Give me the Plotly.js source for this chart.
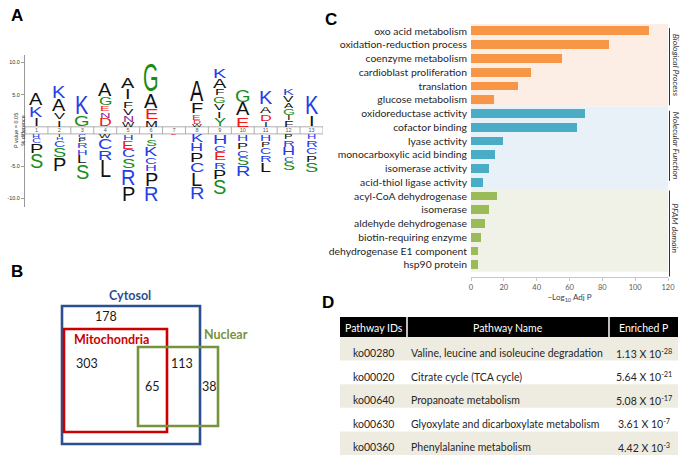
<!DOCTYPE html>
<html><head><meta charset="utf-8">
<script src="https://cdn.plot.ly/plotly-3.0.1.min.js"></script>
<style>html,body{margin:0;padding:0;background:#fff}#chart{width:685px;height:463px}</style>
</head><body><div id="chart"></div>
<script>
const W = 685, H = 463;

// ---------- Panel C data ----------
const bpTerms = ["oxo acid metabolism","oxidation-reduction process","coenzyme metabolism","cardioblast proliferation","translation","glucose metabolism"];
const bpValues = [108.5, 84, 55.5, 36.6, 28.9, 14];
const mfTerms = ["oxidoreductase activity","cofactor binding","lyase activity","monocarboxylic acid binding","isomerase activity","acid-thiol ligase activity"];
const mfValues = [69.7, 64.4, 19.7, 14.6, 11, 7.5];
const pfTerms = ["acyl-CoA dehydrogenase","isomerase","aldehyde dehydrogenase","biotin-requiring enzyme","dehydrogenase E1 component","hsp90 protein"];
const pfValues = [16, 10.8, 8.3, 6.3, 4.5, 4.1];
const groupNames = ["Biological Process","Molecular Function","PFAM domain"];
const xTicks = [0, 20, 40, 60, 80, 100, 120];

// ---------- Panel D data ----------
const pathwayIds = ["ko00280","ko00020","ko00640","ko00630","ko00360"];
const pathwayNames = ["Valine, leucine and isoleucine degradation","Citrate cycle (TCA cycle)","Propanoate metabolism","Glyoxylate and dicarboxylate metabolism","Phenylalanine metabolism"];
const enrichMantissa = ["1.13","5.64","5.08","3.61","4.42"];
const enrichExponent = [-28, -21, -17, -7, -3];
const tableHeader = ["Pathway IDs","Pathway Name","Enriched P"];

// ---------- Panel B data ----------
const vennSets = ["Cytosol","Mitochondria","Nuclear"];
const vennCounts = [178, 303, 113, 65, 38];

// ---------- Panel A data (iceLogo) ----------
const logoPositions = [1,2,3,4,5,6,7,8,9,10,11,12,13];
const logoTicks = [10, 5, -5, -10];
// letters above the strip, listed from the strip upward
const upLetters = ["IKA","IVAK","GK","DNEGA","WNVFIA","MEAG","","WDEFA","YIVGFAK","EAG","IDAK","FIGAVK","IK"];
const upHeights = [[1.4,1.9,2.0],[1.2,1.2,2.0,2.0],[1.9,3.1],[1.35,1.0,1.0,1.3,2.3],[0.8,1.1,1.1,1.2,1.7,1.7],[1.1,1.7,2.5,4.7],[],[0.5,0.6,0.8,1.9,3.6],[1.4,1.2,1.1,1.2,1.1,1.6,1.6],[1.6,2.2,2.0],[0.9,1.2,1.2,2.2],[1.1,0.8,1.1,0.9,1.1,1.2],[1.9,3.1]];
// letters below the strip, listed from the strip downward
const downLetters = ["HCPS","IHCSP","CPRHLS","WCRL","HECSRP","ISKCHPR","E","KHPCLR","HCERPS","HPCSR","HPCRL","PRHCS","HRCPS"];
const downHeights = [[0.6,0.8,1.6,2.5],[0.4,0.5,1.1,1.6,2.3],[0.6,0.7,1.0,1.0,1.3,2.6],[0.7,1.7,1.6,3.0],[1.0,1.3,1.4,1.6,2.7,2.6],[0.6,1.2,1.6,1.2,1.2,2.3,2.5],[0.25],[1.4,1.4,1.6,1.6,2.2,2.0],[1.6,1.2,1.4,1.2,1.6,2.6],[1.1,1.2,1.2,1.4,1.7],[1.1,0.9,1.1,1.2,1.6],[0.8,1.2,1.4,0.9,1.4],[0.8,1.2,1.1,1.2,1.6]];

const aaColors = {K:'#1f3ee6',R:'#1f3ee6',H:'#1f3ee6',C:'#1f3ee6',G:'#1a8c1a',S:'#1a8c1a',Y:'#1a8c1a',T:'#1a8c1a',E:'#f01818',D:'#f01818',N:'#962896',Q:'#962896'};

// ---------- helpers ----------
const px = x => x / W;
const py = y => 1 - y / H;

// Panel A geometry
const aX = [25, 323], aY = [55, 207];
const y2Range = [-11.9, 11.7];
const ppu = (aY[1] - aY[0]) / (y2Range[1] - y2Range[0]);
const stripHalf = 0.55;

// build letter annotations
const letterSpecs = [];
function addLetters(pos, letters, heights, dir) {
  let acc = stripHalf;
  for (let i = 0; i < letters.length; i++) {
    const h = heights[i];
    const center = dir * (acc + h / 2);
    acc += h;
    const hpx = h * ppu * 0.9;
    const fs = Math.min(20, 6 + 1.5 * hpx);
    letterSpecs.push({x: pos, y: center, ch: letters[i], hpx: hpx, fs: fs});
  }
}
logoPositions.forEach((p, k) => {
  addLetters(p, upLetters[k], upHeights[k], 1);
  addLetters(p, downLetters[k], downHeights[k], -1);
});

const annotations = letterSpecs.map(s => ({
  xref: 'x2', yref: 'y2', x: s.x, y: s.y, text: s.ch, showarrow: false,
  xanchor: 'center', yanchor: 'middle', borderpad: 0,
  font: {family: 'Liberation Sans, Arial, sans-serif', size: s.fs, color: aaColors[s.ch] || '#111111'}
}));

// panel letters
[['A',17,16],['B',17,271],['C',331,19],['D',328,302]].forEach(([t,x,y]) => annotations.push({
  xref:'paper', yref:'paper', x:px(x), y:py(y), text:'<b>'+t+'</b>', showarrow:false,
  xanchor:'center', yanchor:'middle', font:{family:'Liberation Sans, Arial, sans-serif', size:17, color:'#000'}
}));

// logo y-axis title
annotations.push({xref:'paper', yref:'paper', x:px(19), y:py(131), text:'P value = 0.05<br>% difference', textangle:-90,
  showarrow:false, xanchor:'center', yanchor:'middle', font:{family:'Liberation Sans, Arial', size:5.5, color:'#333'}});

// Panel C side group labels
const groupCenters = [2.5, 8.3, 14.3];
groupNames.forEach((g, i) => annotations.push({
  xref:'paper', yref:'y', x:px(675.5), y:groupCenters[i], text:'<i>'+g+'</i>', textangle:90, showarrow:false,
  xanchor:'center', yanchor:'middle', font:{family:'Lato, Open Sans, sans-serif', size:8.5, color:'#333'}
}));

// Panel B labels
const vennLabelPos = [[130,295,'#2e4f8f'],[111,339,'#cc0000'],[226,334,'#77933c']];
vennSets.forEach((s, i) => annotations.push({
  xref:'paper', yref:'paper', x:px(vennLabelPos[i][0]), y:py(vennLabelPos[i][1]), text:'<b>'+s+'</b>', showarrow:false,
  xanchor:'center', yanchor:'middle', font:{family:'Lato, sans-serif', size:12.5, color:vennLabelPos[i][2]}
}));
const vennCountPos = [[106,316],[87,363],[182,363],[152,386],[209,386]];
vennCounts.forEach((c, i) => annotations.push({
  xref:'paper', yref:'paper', x:px(vennCountPos[i][0]), y:py(vennCountPos[i][1]), text:String(c), showarrow:false,
  xanchor:'center', yanchor:'middle', font:{family:'Lato, sans-serif', size:12.5, color:'#1a1a1a'}
}));

// ---------- shapes ----------
const shapes = [];
// Panel C background bands
const bandColors = ['#fdeee5', '#e8f0f8', '#f0f2e7'];
bandColors.forEach((c, i) => shapes.push({type:'rect', xref:'x domain', yref:'y', x0:0, x1:1, y0:6*i-0.5, y1:6*i+5.5,
  fillcolor:c, line:{width:0}, layer:'below'}));
// Panel C side lines
const sideLineSpans = [[-0.2,5.4],[5.8,10.9],[11.6,17.85]];
sideLineSpans.forEach(s => shapes.push({type:'line', xref:'paper', yref:'y', x0:px(669.5), x1:px(669.5), y0:s[0], y1:s[1],
  line:{color:'#333', width:1}}));
// Panel A strip
shapes.push({type:'rect', xref:'x2', yref:'y2', x0:0.5, x1:13.5, y0:-stripHalf, y1:stripHalf, line:{color:'#9a9a9a', width:0.8}, fillcolor:'rgba(0,0,0,0)'});
logoPositions.slice(0, -1).forEach(p => shapes.push({type:'line', xref:'x2', yref:'y2', x0:p+0.5, x1:p+0.5, y0:-stripHalf, y1:stripHalf, line:{color:'#9a9a9a', width:0.8}}));
// Panel B rectangles
const vennRects = [[62,306,200,444,'#2e4f8f'],[64,329,167,432,'#cc0000'],[138,347,218,426,'#77933c']];
vennRects.forEach(r => shapes.push({type:'rect', xref:'paper', yref:'paper', x0:px(r[0]), x1:px(r[2]), y0:py(r[3]), y1:py(r[1]),
  line:{color:r[4], width:2.6}, fillcolor:'rgba(0,0,0,0)'}));

// Panel D table (drawn with shapes + text)
const colEdges = [340, 407, 609, 678];
const headTop = 317, headH = 20, rowH = 23.6;
shapes.push({type:'rect', xref:'paper', yref:'paper', x0:px(colEdges[0]), x1:px(colEdges[3]), y0:py(headTop+headH), y1:py(headTop),
  fillcolor:'#000', line:{width:0}});
[1, 2].forEach(c => shapes.push({type:'line', xref:'paper', yref:'paper', x0:px(colEdges[c]), x1:px(colEdges[c]),
  y0:py(headTop+headH), y1:py(headTop), line:{color:'#fff', width:1.5}}));
pathwayIds.forEach((_, r) => {
  if (r % 2 === 0) {
    const top = headTop + headH + r * rowH;
    shapes.push({type:'rect', xref:'paper', yref:'paper', x0:px(colEdges[0]), x1:px(colEdges[3]), y0:py(top+rowH), y1:py(top),
      fillcolor:'#eeece1', line:{width:0}});
  }
});
const colCenters = [(colEdges[0]+colEdges[1])/2, (colEdges[1]+colEdges[2])/2, (colEdges[2]+colEdges[3])/2];
tableHeader.forEach((t, c) => annotations.push({xref:'paper', yref:'paper', x:px(colCenters[c]), y:py(headTop+headH/2+0.5),
  text:t, showarrow:false, xanchor:'center', yanchor:'middle', font:{family:'Lato, sans-serif', size:10.5, color:'#fff'}}));
const tableFont = {family:'Lato, sans-serif', size:10.5, color:'#262626'};
pathwayIds.forEach((id, r) => {
  const yc = py(headTop + headH + r * rowH + 16);
  annotations.push({xref:'paper', yref:'paper', x:px(colCenters[0]), y:yc, text:id, showarrow:false, xanchor:'center', yanchor:'middle', font:tableFont});
  annotations.push({xref:'paper', yref:'paper', x:px(colEdges[1]+2), y:yc, text:pathwayNames[r], showarrow:false, xanchor:'left', yanchor:'middle', font:tableFont});
  annotations.push({xref:'paper', yref:'paper', x:px(colCenters[2]), y:yc, text:enrichMantissa[r] + ' X 10<sup>' + enrichExponent[r] + '</sup>',
    showarrow:false, xanchor:'center', yanchor:'middle', font:tableFont});
});

// ---------- traces ----------
const barColors = ['#f79646', '#4bacc6', '#9bbb59'];
const data = [
  {type:'bar', orientation:'h', x:bpValues, y:bpTerms, marker:{color:barColors[0]}, width:0.64, xaxis:'x', yaxis:'y', hoverinfo:'none'},
  {type:'bar', orientation:'h', x:mfValues, y:mfTerms, marker:{color:barColors[1]}, width:0.64, xaxis:'x', yaxis:'y', hoverinfo:'none'},
  {type:'bar', orientation:'h', x:pfValues, y:pfTerms, marker:{color:barColors[2]}, width:0.64, xaxis:'x', yaxis:'y', hoverinfo:'none'},
  {type:'scatter', mode:'text', x:logoPositions, y:logoPositions.map(() => 0), text:logoPositions.map(String),
    textfont:{family:'Liberation Sans, Arial', size:5.5, color:'#555'}, xaxis:'x2', yaxis:'y2', hoverinfo:'none'}
];

const layout = {
  width: W, height: H, margin:{l:0, r:0, t:0, b:0}, paper_bgcolor:'#fff', plot_bgcolor:'rgba(0,0,0,0)',
  showlegend:false, barmode:'stack',
  font:{family:'Lato, sans-serif'},
  xaxis:{domain:[px(471), px(668)], range:[0,120], tickvals:xTicks, showgrid:false, zeroline:false,
    showline:true, linecolor:'#c8c8c8', linewidth:1, ticks:'outside', ticklen:3, tickcolor:'#c8c8c8',
    tickfont:{family:'Lato, sans-serif', size:7.5, color:'#595959'},
    title:{text:'\u2212Log<sub>10</sub> Adj P', font:{family:'Lato, sans-serif', size:8, color:'#404040'}, standoff:1},
    anchor:'y', fixedrange:true},
  yaxis:{domain:[py(277), py(24)], type:'category', categoryorder:'array', categoryarray:bpTerms.concat(mfTerms, pfTerms),
    autorange:'reversed', showgrid:false, zeroline:false, showline:false, ticks:'', ticklabelstandoff:3,
    tickfont:{family:'Lato, sans-serif', size:10.4, color:'#262626'}, anchor:'x', fixedrange:true},
  xaxis2:{domain:[px(aX[0]), px(aX[1])], range:[0.5, 13.5], visible:false, anchor:'y2', fixedrange:true},
  yaxis2:{domain:[py(aY[1]), py(aY[0])], range:y2Range, showgrid:false, zeroline:false, showline:true, linecolor:'#999', linewidth:1,
    ticks:'outside', ticklen:3, tickcolor:'#999',
    tickvals:logoTicks.map(v => v + Math.sign(v) * stripHalf), ticktext:logoTicks.map(v => v.toFixed(1)),
    tickfont:{family:'Liberation Sans, Arial', size:5.5, color:'#333'}, anchor:'x2', fixedrange:true},
  shapes: shapes,
  annotations: annotations
};

const gd = document.getElementById('chart');
Plotly.newPlot(gd, data, layout, {staticPlot:true, displayModeBar:false}).then(() => {
  letterSpecs.forEach((s, i) => {
    const t = gd.querySelector('.annotation[data-index="' + i + '"] text');
    if (!t) return;
    const bb = t.getBBox();
    const cx = bb.x + bb.width / 2, cy = bb.y + bb.height / 2;
    const sy = s.hpx / (0.716 * s.fs);
    t.setAttribute('transform', 'translate(' + cx + ',' + cy + ') scale(1,' + sy + ') translate(' + (-cx) + ',' + (-cy) + ')');
  });
});
</script>
</body></html>
